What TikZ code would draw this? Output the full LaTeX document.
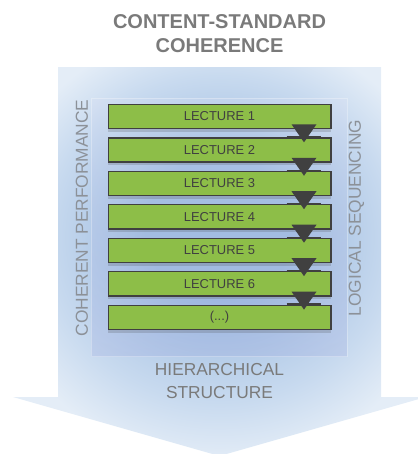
\documentclass[tikz,border=0pt]{standalone}
\usepackage{fontspec}
\setmainfont{Liberation Sans}
\usetikzlibrary{positioning,shadows}

\definecolor{lecturegreen}{RGB}{141,190,72}
\definecolor{darkline}{RGB}{64,64,64}
\definecolor{titlegray}{RGB}{122,122,122}
\definecolor{sidegray}{RGB}{140,145,152}
\definecolor{arrowin}{RGB}{160,189,225}
\definecolor{arrowmid}{RGB}{200,218,239}
\definecolor{arrowout}{RGB}{228,237,247}
\definecolor{panelblue}{RGB}{140,150,215}

\pgfdeclareradialshading{arrowshade}{\pgfpoint{0bp}{5bp}}{color(0bp)=(arrowin); color(9bp)=(arrowin); color(21bp)=(arrowmid); color(28bp)=(arrowout); color(50bp)=(arrowout)}

\begin{document}
\begin{tikzpicture}[x=0.75pt, y=0.75pt, node distance=5.9pt,
    lecture/.style={draw=darkline, line width=1pt, fill=lecturegreen, minimum width=167pt, minimum height=18.2pt, inner sep=0pt, text=darkline, font=\fontsize{9.7}{11}\selectfont, drop shadow={shadow xshift=0pt, shadow yshift=-2.5pt, opacity=0.2, fill=darkline}},
    seqmark/.style={fill=darkline, draw=none},
    seqbar/.style={draw=darkline, line width=1.6pt},
    sidelabel/.style={text=sidegray, font=\fontsize{13}{15}\selectfont, rotate=90}]
    \useasboundingbox (0,0) rectangle (418,-454);

    % big arrow behind everything
    \shade [shading=arrowshade] (58,-67) -- (381,-67) -- (381,-397) -- (426,-397) -- (219.5,-456) -- (13,-397) -- (58,-397) -- cycle;
    \shade [top color=panelblue!30, bottom color=panelblue, opacity=0.2] (91,-98) rectangle (347,-356);
    \draw [white, opacity=0.3, line width=0.5pt] (91,-98) rectangle (347,-356);

    \node [align=center, text=titlegray, font=\bfseries\fontsize{15}{17.6}\selectfont] (title) at (219.5,-33.5) {CONTENT-STANDARD\\COHERENCE};

    \node [lecture] (lec1) at (219.5,-116.5) {LECTURE 1};
    \node [lecture, below=of lec1] (lec2) {LECTURE 2};
    \node [lecture, below=of lec2] (lec3) {LECTURE 3};
    \node [lecture, below=of lec3] (lec4) {LECTURE 4};
    \node [lecture, below=of lec4] (lec5) {LECTURE 5};
    \node [lecture, below=of lec5] (lec6) {LECTURE 6};
    \node [lecture, below=of lec6] (lec7) {(...)};

    \draw [seqbar] ([shift={(-45,0)}]lec2.north east) -- ([shift={(-11,0)}]lec2.north east);
    \draw [seqbar] ([shift={(-45,0)}]lec3.north east) -- ([shift={(-11,0)}]lec3.north east);
    \draw [seqbar] ([shift={(-45,0)}]lec4.north east) -- ([shift={(-11,0)}]lec4.north east);
    \draw [seqbar] ([shift={(-45,0)}]lec5.north east) -- ([shift={(-11,0)}]lec5.north east);
    \draw [seqbar] ([shift={(-45,0)}]lec6.north east) -- ([shift={(-11,0)}]lec6.north east);
    \draw [seqbar] ([shift={(-45,0)}]lec7.north east) -- ([shift={(-11,0)}]lec7.north east);

    \fill [seqmark] ([shift={(-40,5)}]lec1.south east) -- ([shift={(-15,5)}]lec1.south east) -- ([shift={(-27.5,-13)}]lec1.south east) -- cycle;
    \fill [seqmark] ([shift={(-40,5)}]lec2.south east) -- ([shift={(-15,5)}]lec2.south east) -- ([shift={(-27.5,-13)}]lec2.south east) -- cycle;
    \fill [seqmark] ([shift={(-40,5)}]lec3.south east) -- ([shift={(-15,5)}]lec3.south east) -- ([shift={(-27.5,-13)}]lec3.south east) -- cycle;
    \fill [seqmark] ([shift={(-40,5)}]lec4.south east) -- ([shift={(-15,5)}]lec4.south east) -- ([shift={(-27.5,-13)}]lec4.south east) -- cycle;
    \fill [seqmark] ([shift={(-40,5)}]lec5.south east) -- ([shift={(-15,5)}]lec5.south east) -- ([shift={(-27.5,-13)}]lec5.south east) -- cycle;
    \fill [seqmark] ([shift={(-40,5)}]lec6.south east) -- ([shift={(-15,5)}]lec6.south east) -- ([shift={(-27.5,-13)}]lec6.south east) -- cycle;

    \node [sidelabel] (performance) at (82,-218) {COHERENT PERFORMANCE};
    \node [sidelabel] (sequencing) at (356.5,-218) {LOGICAL SEQUENCING};

    \node [align=center, text=titlegray, font=\fontsize{13}{17.25}\selectfont] (structure) at (219.5,-381.5) {HIERARCHICAL\\STRUCTURE};
\end{tikzpicture}
\end{document}
